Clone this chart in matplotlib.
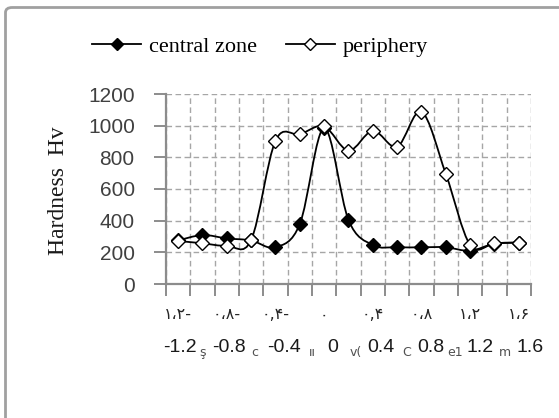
import numpy as np
import matplotlib
matplotlib.use("Agg")
import matplotlib.pyplot as plt
import matplotlib.transforms as mtransforms
from matplotlib.path import Path
from matplotlib.patches import PathPatch, FancyBboxPatch
from matplotlib.lines import Line2D

# distance categories (mm) and hardness readings
positions = [-1.2, -1.0, -0.8, -0.6, -0.4, -0.2, 0.0, 0.2, 0.4, 0.6, 0.8, 1.0, 1.2, 1.4, 1.6]
central_zone = [275, 309, 288, 275, 232, 379, 985, 404, 246, 232, 232, 232, 210, 255, 262]
periphery = [272, 257, 242, 278, 905, 945, 995, 842, 968, 867, 1088, 695, 246, 257, 261]

# two rows of axis labels as they appear in the picture
arabic_labels = ["١،٢-", "٠،٨-", "٠,۴-", "٠", "٠,۴", "٠،٨", "١،٢", "١،۶"]
western_labels = ["-1.2", "-0.8", "-0.4", "0", "0.4", "0.8", "1.2", "1.6"]
stray_glyphs = ["ş", "c", "ıı", "v(", "C", "e1", "m"]

y_ticks = [0, 200, 400, 600, 800, 1000, 1200]


def smooth_path(xs, ys):
    # Excel-like smoothed line (Catmull-Rom as cubic bezier)
    pts = np.column_stack([xs, ys]).astype(float)
    n = len(pts)
    verts = [pts[0]]
    codes = [Path.MOVETO]
    for i in range(n - 1):
        p0 = pts[i - 1] if i > 0 else pts[i]
        p1 = pts[i]
        p2 = pts[i + 1]
        p3 = pts[i + 2] if i + 2 < n else pts[i + 1]
        verts += [p1 + (p2 - p0) / 6, p2 - (p3 - p1) / 6, p2]
        codes += [Path.CURVE4] * 3
    return Path(verts, codes)


fig = plt.figure(figsize=(5.59, 4.18), dpi=100)
ax = fig.add_axes([166 / 559, 1 - 284 / 418, 365 / 559, 190 / 418])

x = np.arange(len(positions))

grid_col = "#a6a6a6"
ax.set_xlim(-0.5, len(positions) - 0.5)
ax.set_ylim(0, 1200)
ax.set_xticks(np.arange(-0.5, len(positions), 1.0))
ax.set_xticklabels([])
ax.set_yticks(y_ticks)
ax.grid(True, color=grid_col, linestyle=(0, (4, 2.5)), linewidth=1.0)
ax.set_axisbelow(True)
for s in ["top", "right"]:
    ax.spines[s].set_visible(False)
for s in ["left", "bottom"]:
    ax.spines[s].set_color("#8c8c8c")
    ax.spines[s].set_linewidth(1.6)
ax.tick_params(axis="both", direction="out", length=8.5, width=1.4, color="#8c8c8c")
ax.tick_params(axis="y", pad=14, labelsize=15, labelcolor="#404040")
for lab in ax.get_yticklabels():
    lab.set_family("Liberation Sans")

# smoothed lines + markers
ax.add_patch(PathPatch(smooth_path(x, central_zone), facecolor="none",
                       edgecolor="black", lw=1.3, zorder=3))
ax.add_patch(PathPatch(smooth_path(x, periphery), facecolor="none",
                       edgecolor="black", lw=1.3, zorder=3))
ax.plot(x, central_zone, "D", ms=7, mfc="black", mec="black", mew=1, ls="none", zorder=4)
ax.plot(x, periphery, "D", ms=7.5, mfc="white", mec="black", mew=1, ls="none", zorder=5)

# category labels
trans = mtransforms.blended_transform_factory(ax.transData, ax.transAxes)
label_idx = x[::2]
west_shift = [0.08, 0.08, 0.35, 0.37, 0.33, 0.37, 0.41, 0.45]
stray_shift = [0.0, 0.16, 0.5, 0.29, 0.37, 0.37, 0.41]
for i, xi in enumerate(label_idx):
    ax.text(xi, -0.163, arabic_labels[i], transform=trans, ha="center", va="center",
            fontsize=11.5, color="#262626", family=["DejaVu Sans", "Noto Sans"])
    ax.text(xi + west_shift[i], -0.332, western_labels[i], transform=trans,
            ha="center", va="center", fontsize=14, color="#1a1a1a", family="Liberation Sans")
for i, xi in enumerate(x[1::2]):
    ax.text(xi + stray_shift[i], -0.36, stray_glyphs[i], transform=trans,
            ha="center", va="center", fontsize=9, color="#505050", family="DejaVu Sans")

fig.text(59 / 559, 1 - 191 / 418, "Hardness  Hv", rotation=90, ha="center", va="center",
         fontsize=17, family="Liberation Serif", color="#1a1a1a")

handles = [
    Line2D([], [], color="black", lw=1.3, marker="D", ms=6.5, mfc="black", mec="black"),
    Line2D([], [], color="black", lw=1.3, marker="D", ms=6.5, mfc="white", mec="black"),
]
fig.legend(handles, ["central zone", "periphery"], loc="center",
           bbox_to_anchor=(0.465, 1 - 47 / 418), ncol=2, frameon=False,
           prop={"family": "Liberation Serif", "size": 16},
           handlelength=2.2, handletextpad=0.35, columnspacing=1.3)

# chart border (extends past right and bottom edges)
fig.patches.append(FancyBboxPatch((5.5 / 559, -0.1), 1.2, 1.1 - 7.5 / 418,
                                  boxstyle="round,pad=0,rounding_size=0.012",
                                  transform=fig.transFigure, facecolor="none",
                                  edgecolor="#a0a0a0", lw=2, zorder=-1))

fig.savefig("out.png", dpi=100)
